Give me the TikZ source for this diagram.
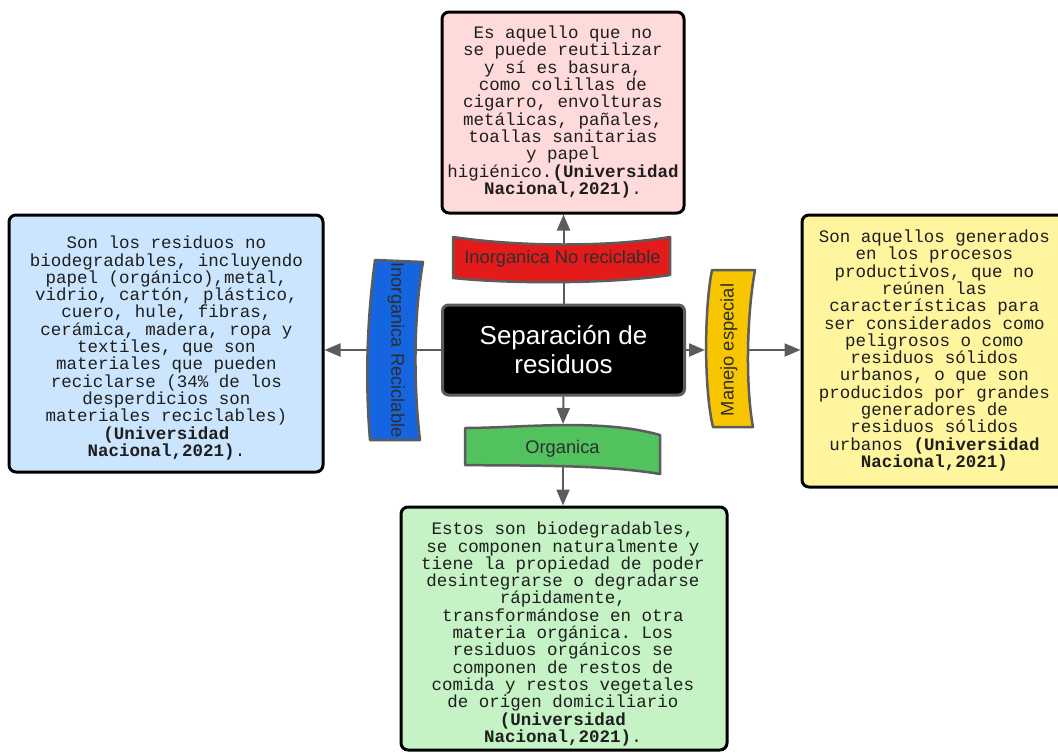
\documentclass[tikz,border=0pt]{standalone}
\usepackage{fontspec}
\setmainfont{Liberation Serif}
\setsansfont{Liberation Sans}
\setmonofont{Liberation Mono}
\usetikzlibrary{arrows.meta}
\definecolor{pinkF}{HTML}{FFDADA}
\definecolor{blueF}{HTML}{CCE5FF}
\definecolor{yelF}{HTML}{FFF59E}
\definecolor{grnF}{HTML}{C5F3C5}
\definecolor{redB}{HTML}{E31B1B}
\definecolor{bluB}{HTML}{1565E0}
\definecolor{yelB}{HTML}{F7C600}
\definecolor{grnB}{HTML}{52C25E}
\definecolor{edgegray}{HTML}{5C5C5C}
\definecolor{txtc}{HTML}{1E1E1E}
\begin{document}
\begin{tikzpicture}[x=1pt,y=-1pt,
  box/.style={draw=black,line width=3pt,rounded corners=7pt},
  txt/.style={font=\ttfamily\fontsize{17.5}{17.3}\selectfont,text=txtc,align=center,inner sep=0pt},
  banner/.style={draw=edgegray,line width=2.5pt,line join=round},
  btxt/.style={font=\sffamily\fontsize{18.3}{20}\selectfont,text=black!82,inner sep=0pt},
  conn/.style={draw=edgegray,line width=2pt,-{Triangle[length=16pt,width=13pt]}}]
\useasboundingbox (0,0) rectangle (1058,753);
\clip (0,0) rectangle (1058,753);
\fill[white] (0,0) rectangle (1058,753);
% boxes
\node[box,fill=pinkF,minimum width=242pt,minimum height=201pt] (top) at (563,112.5) {};
\node[box,fill=blueF,minimum width=314pt,minimum height=257pt] (left) at (166,343.5) {};
\node[box,fill=yelF,minimum width=265pt,minimum height=272pt] (right) at (934.5,351) {};
\node[box,fill=grnF,minimum width=326pt,minimum height=243pt] (bot) at (564,628.5) {};
% helper coordinates on the banners
\coordinate (yelL) at (705,350);
\coordinate (yelR) at (748,350);
\coordinate (grnTop) at (563,424);
\coordinate (grnBot) at (563,467);
% centre node
\node[draw=edgegray,fill=black,line width=3pt,rounded corners=6pt,minimum width=242pt,minimum height=90pt,
      font=\sffamily\fontsize{26}{29}\selectfont,text=white,align=center] (ctr) at (563.5,350)
      {Separación de\\residuos};
% connectors
\draw[conn] (ctr.north) -- (ctr.north |- top.south);
\draw[conn] (ctr.west) -- (ctr.west -| left.east);
\draw[conn] (ctr.east) -- (yelL);
\draw[conn] (yelR) -- (yelR -| right.west);
\draw[conn] (ctr.south) -- (grnTop);
\draw[conn] (grnBot) -- (grnBot |- bot.north);
% banners
\path[banner,fill=redB] (453,237) .. controls (520,247) and (610,247) .. (670,237) -- (670,275)
   .. controls (610,284) and (510,284) .. (453,278) -- cycle;
\node[btxt] (redT) at (562.5,259) {Inorganica No reciclable};
\path[banner,fill=bluB] (375,260) -- (423,262) .. controls (413,320) and (414,390) .. (420,440)
   -- (370,440) .. controls (365,380) and (367,320) .. (375,260) -- cycle;
\node[btxt,rotate=-90] (bluT) at (396,350) {Inorganica Reciclable};
\path[banner,fill=yelB] (712,270) -- (755,270) .. controls (746,320) and (746,390) .. (753,427)
   -- (713,427) .. controls (704,390) and (704,310) .. (712,270) -- cycle;
\node[btxt,rotate=90] (yelT) at (729,350) {Manejo especial};
\path[banner,fill=grnB] (465,428) .. controls (520,428) and (600,418) .. (660,435) -- (660,474)
   .. controls (600,464) and (520,466) .. (465,465) -- cycle;
\node[btxt] (grnT) at (562.5,449) {Organica};
% texts
\node[txt] (topT) at (563,112) {Es aquello que no\\se puede reutilizar\\y sí es basura,\\como colillas de\\cigarro, envolturas\\metálicas, pañales,\\toallas sanitarias\\y papel\\higiénico.\textbf{(Universidad}\\\textbf{Nacional,2021)}.};
\node[txt] (leftT) at (166.5,348) {Son los residuos no\\biodegradables, incluyendo\\papel (orgánico),metal,\\vidrio, cartón, plástico,\\cuero, hule, fibras,\\cerámica, madera, ropa y\\textiles, que son\\materiales que pueden\\reciclarse (34\% de los\\desperdicios son\\materiales reciclables)\\\textbf{(Universidad}\\\textbf{Nacional,2021)}.};
\node[txt] (rightT) at (934.5,350.5) {Son aquellos generados\\en los procesos\\productivos, que no\\reúnen las\\características para\\ser considerados como\\peligrosos o como\\residuos sólidos\\urbanos, o que son\\producidos por grandes\\generadores de\\residuos sólidos\\urbanos \textbf{(Universidad}\\\textbf{Nacional,2021)}};
\node[txt] (botT) at (563,634) {Estos son biodegradables,\\se componen naturalmente y\\tiene la propiedad de poder\\desintegrarse o degradarse\\rápidamente,\\transformándose en otra\\materia orgánica. Los\\residuos orgánicos se\\componen de restos de\\comida y restos vegetales\\de origen domiciliario\\\textbf{(Universidad}\\\textbf{Nacional,2021)}.};
\end{tikzpicture}
\end{document}
